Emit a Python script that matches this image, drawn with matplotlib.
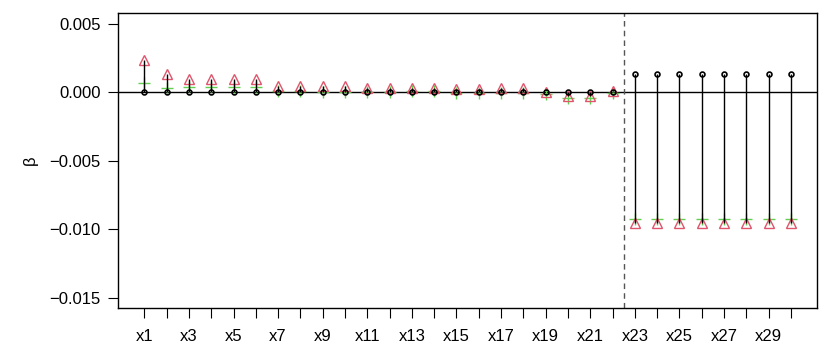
"Coefficient estimates against true values, per variable"
import matplotlib.pyplot as plt
import numpy as np

plt.rcParams['font.family'] = ['Liberation Sans', 'DejaVu Sans']
plt.rcParams['font.size'] = 12

names = ['x%d' % i for i in range(1, 31)]

# true coefficients (black circles)
beta_true = [0.0] * 22 + [0.00137] * 8

# estimates, method A (red triangles)
beta_a = [0.0024, 0.00136, 0.00098, 0.00098, 0.00098, 0.00098, 0.00049, 0.00049,
          0.00049, 0.00049, 0.00034, 0.00034, 0.00034, 0.00034, 0.00027, 0.00027,
          0.0003, 0.0003, 0.00002, -0.00028, -0.00028, 0.00007] + [-0.00955] * 8

# estimates, method B (green crosses)
beta_b = [0.0007, 0.00032, 0.00037, 0.00037, 0.00037, 0.00037, 0.0001, 0.0001,
          0.00005, 0.00005, 0.0, 0.0, 0.00012, 0.00012, -0.00005, -0.00005,
          -0.00005, -0.00005, -0.0001, -0.0004, -0.0004, -0.00005] + [-0.00923] * 8

yticks = [-0.015, -0.010, -0.005, 0.0, 0.005]

n_zero = 22  # variables with zero true effect

xpos = np.arange(1, len(names) + 1)

fig = plt.figure(figsize=(8.3, 3.59), dpi=100)
ax = fig.add_axes([0.1425, 0.1421, 0.8418, 0.8217])

ax.axhline(0, color='black', lw=1, zorder=1)
ax.axvline(n_zero + 0.5, color='#555555', lw=1, ls=(0, (4, 3)), zorder=1)

ax.plot(xpos, beta_b, ls='none', marker='+', ms=8.5, mew=1, color='#61D04F', zorder=2)
ax.plot(xpos, beta_a, ls='none', marker='^', ms=6.8, mew=1, mfc='none', mec='#DF536B', zorder=3)
ax.vlines(xpos, beta_true, beta_a, color='black', lw=1, zorder=4)
ax.plot(xpos, beta_true, ls='none', marker='o', ms=3.5, mew=1.2, mfc='none', mec='black', zorder=5)

ax.set_xlim(-0.17, 31.17)
ax.set_ylim(-0.01575, 0.0058)
ax.set_xticks(xpos)
ax.set_xticklabels([n if i % 2 == 0 else '' for i, n in enumerate(names)])
ax.set_yticks(yticks)
ax.set_yticklabels([('%.3f' % v).replace('-', '\u2212') for v in yticks])
ax.tick_params(axis='x', length=7.2, pad=8)
ax.tick_params(axis='y', length=7.2, pad=5.5)
for s in ax.spines.values():
    s.set_linewidth(1)

fig.text(30 / 830, 1 - 160.5 / 359, 'β', rotation=90, ha='center', va='center')

plt.savefig('out.png', dpi=100)
